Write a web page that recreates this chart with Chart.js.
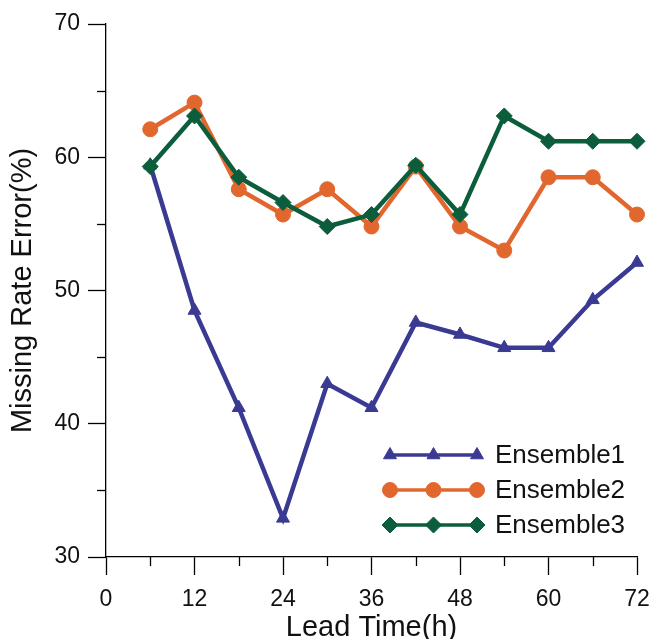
<!DOCTYPE html>
<html>
<head>
<meta charset="utf-8">
<script src="https://cdn.jsdelivr.net/npm/chart.js@4/dist/chart.umd.min.js"></script>
<style>
html,body{margin:0;padding:0;background:#fff;}
#wrap{width:650px;height:639px;position:relative;}
</style>
</head>
<body>
<div id="wrap"><canvas id="c" width="650" height="639"></canvas></div>
<script>
const leadTimes = [6, 12, 18, 24, 30, 36, 42, 48, 54, 60, 66, 72];
const ensemble1 = [59.4, 48.5, 41.2, 32.9, 43.0, 41.2, 47.6, 46.7, 45.7, 45.7, 49.3, 52.1];
const ensemble2 = [62.1, 64.1, 57.6, 55.7, 57.6, 54.8, 59.3, 54.8, 53.0, 58.5, 58.5, 55.7];
const ensemble3 = [59.3, 63.1, 58.5, 56.6, 54.8, 55.7, 59.4, 55.7, 63.1, 61.2, 61.2, 61.2];
const seriesNames = ['Ensemble1', 'Ensemble2', 'Ensemble3'];
const xTicks = [0, 12, 24, 36, 48, 60, 72];
const yTicks = [30, 40, 50, 60, 70];
const xMinorTicks = [6, 18, 30, 42, 54, 66];
const yMinorTicks = [35, 45, 55, 65];

const FONT = "'Liberation Sans', Arial, sans-serif";
const colors = ['#3b3a93', '#e2672f', '#0b5d3b'];
const shapes = ['triangle', 'circle', 'rectRot'];
const radii = [7.5, 7.5, 8];

function pts(vals){ return leadTimes.map((x,i)=>({x:x, y:vals[i]})); }
const allSeries = [ensemble1, ensemble2, ensemble3];

const datasets = allSeries.map((vals,i)=>({
  label: seriesNames[i],
  data: pts(vals),
  borderColor: colors[i],
  backgroundColor: colors[i],
  pointBackgroundColor: colors[i],
  pointBorderColor: colors[i],
  pointStyle: shapes[i],
  pointRadius: radii[i],
  pointBorderWidth: 1,
  borderWidth: 4.5,
  tension: 0,
  clip: false,
  order: 2 - i
}));

const minorTicksPlugin = {
  id: 'minorTicks',
  afterDraw(chart){
    const ctx = chart.ctx;
    const xs = chart.scales.x, ys = chart.scales.y;
    ctx.save();
    ctx.strokeStyle = '#000';
    ctx.lineWidth = 1.3;
    const len = 9;
    xMinorTicks.forEach(v=>{
      const px = Math.round(xs.getPixelForValue(v)) + 0.5;
      ctx.beginPath(); ctx.moveTo(px, xs.top); ctx.lineTo(px, xs.top + len); ctx.stroke();
    });
    yMinorTicks.forEach(v=>{
      const py = Math.round(ys.getPixelForValue(v)) + 0.5;
      ctx.beginPath(); ctx.moveTo(ys.right, py); ctx.lineTo(ys.right - len, py); ctx.stroke();
    });
    ctx.restore();
  }
};

const legendPlugin = {
  id: 'customLegend',
  afterDraw(chart){
    const ctx = chart.ctx;
    const x0 = 390, x1 = 477, xm = (x0 + x1) / 2;
    const rows = [455, 490, 525];
    ctx.save();
    chart.data.datasets.forEach((ds, i)=>{
      const y = rows[i];
      ctx.strokeStyle = ds.borderColor;
      ctx.lineWidth = 3.5;
      ctx.beginPath(); ctx.moveTo(x0, y); ctx.lineTo(x1, y); ctx.stroke();
      [x0, xm, x1].forEach(px=>{
        ctx.fillStyle = ds.pointBackgroundColor;
        ctx.strokeStyle = ds.pointBorderColor;
        ctx.lineWidth = 1;
        Chart.helpers.drawPoint(ctx, {pointStyle: ds.pointStyle, radius: ds.pointRadius, borderWidth: 1, rotation: 0}, px, y);
      });
      ctx.fillStyle = '#111';
      ctx.font = '26px ' + FONT;
      ctx.textAlign = 'left';
      ctx.textBaseline = 'middle';
      ctx.fillText(ds.label, 495, y + 1);
    });
    ctx.restore();
  }
};

new Chart(document.getElementById('c'), {
  type: 'line',
  data: { datasets: datasets },
  options: {
    responsive: false,
    animation: false,
    devicePixelRatio: 1,
    layout: { padding: { top: 24, right: 13, left: 0, bottom: 0 } },
    plugins: { legend: { display: false }, tooltip: { enabled: false } },
    scales: {
      x: {
        type: 'linear', min: 0, max: 72,
        afterBuildTicks(s){ s.ticks = xTicks.map(v=>({value:v})); },
        afterFit(s){ s.height = 82; s.paddingLeft = 0; s.paddingRight = 0; },
        border: { display: true, color: '#000', width: 1.3 },
        grid: { display: true, drawOnChartArea: false, drawTicks: true, tickLength: 18, color: '#000', tickWidth: 1.3 },
        ticks: { color: '#111', font: { family: FONT, size: 23 }, padding: 11, maxRotation: 0 },
        title: { display: true, text: 'Lead Time(h)', color: '#111', font: { family: FONT, size: 29 }, padding: { top: 0, bottom: -6 } }
      },
      y: {
        type: 'linear', min: 30, max: 70,
        afterBuildTicks(s){ s.ticks = yTicks.map(v=>({value:v})); },
        afterFit(s){ s.width = 106; s.paddingTop = 0; s.paddingBottom = 0; },
        border: { display: true, color: '#000', width: 1.3 },
        grid: { display: true, drawOnChartArea: false, drawTicks: true, tickLength: 18, color: '#000', tickWidth: 1.3 },
        ticks: { color: '#111', font: { family: FONT, size: 23 }, padding: 8 },
        title: { display: true, text: 'Missing Rate Error(%)', color: '#111', font: { family: FONT, size: 29 }, padding: { top: 6, bottom: 0 } }
      }
    }
  },
  plugins: [minorTicksPlugin, legendPlugin]
});
</script>
</body>
</html>
